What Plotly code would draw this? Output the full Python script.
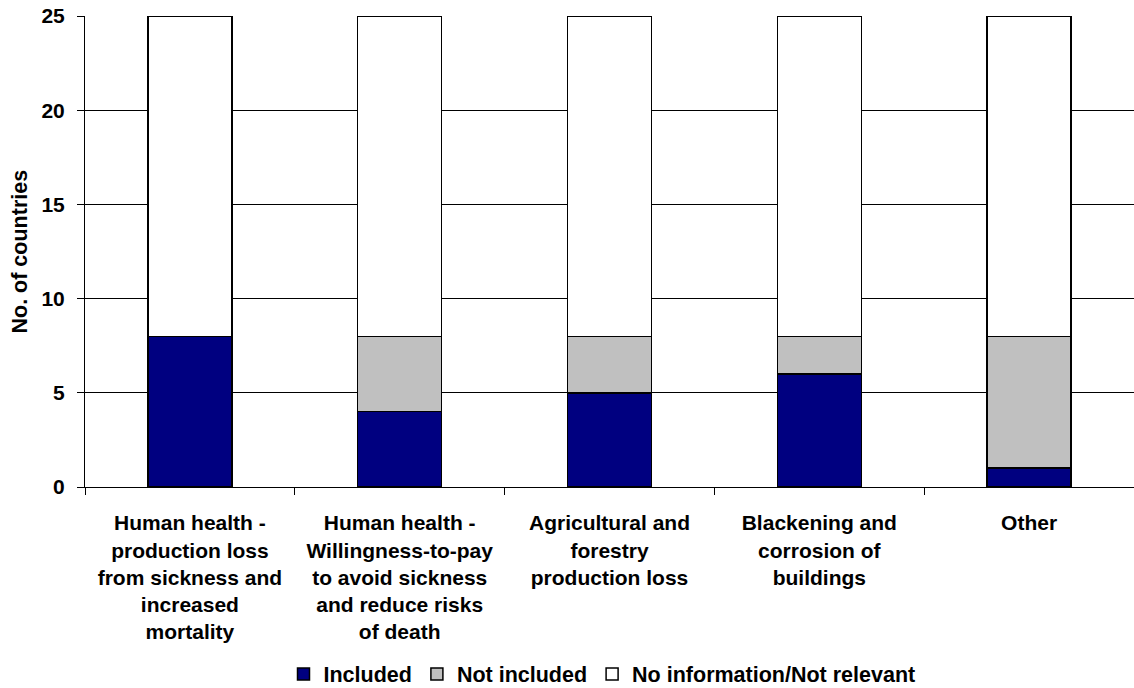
import plotly.graph_objects as go

# Cost categories valued by countries
categories = [
    "Human health -<br>production loss<br>from sickness and<br>increased<br>mortality",
    "Human health -<br>Willingness-to-pay<br>to avoid sickness<br>and reduce risks<br>of death",
    "Agricultural and<br>forestry<br>production loss",
    "Blackening and<br>corrosion of<br>buildings",
    "Other",
]

# Number of countries per status
included = [8, 4, 5, 6, 1]
not_included = [0, 4, 3, 2, 7]
no_information = [17, 17, 17, 17, 17]

series = [
    ("Included", included, "#000080"),
    ("Not included", not_included, "#C0C0C0"),
    ("No information/Not relevant", no_information, "#FFFFFF"),
]

FONT = "Liberation Sans, Arial, sans-serif"

fig = go.Figure()
for name, values, colour in series:
    fig.add_trace(go.Bar(
        name=name,
        x=categories,
        y=values,
        marker=dict(color=colour, line=dict(color="#000000", width=1.5)),
    ))

fig.update_layout(
    barmode="stack",
    bargap=0.6,
    width=1134,
    height=688,
    margin=dict(l=85, r=0, t=16, b=201),
    plot_bgcolor="#FFFFFF",
    paper_bgcolor="#FFFFFF",
    font=dict(family=FONT, size=21, color="#000000", weight="bold"),
    showlegend=True,
    legend=dict(
        orientation="h",
        xref="container",
        yref="container",
        x=0.25,
        xanchor="left",
        y=1 - 674 / 688,
        yanchor="middle",
        font=dict(family=FONT, size=21.5, color="#000000", weight="bold"),
        itemclick=False,
        traceorder="normal",
    ),
    xaxis=dict(
        showline=True,
        linecolor="#000000",
        linewidth=1,
        ticks="outside",
        tickson="boundaries",
        ticklen=7,
        tickcolor="#000000",
        ticklabelstandoff=17,
        tickfont=dict(family=FONT, size=21, weight="bold"),
        showgrid=False,
    ),
    yaxis=dict(
        range=[0, 25],
        tickvals=[0, 5, 10, 15, 20, 25],
        showline=True,
        linecolor="#000000",
        linewidth=1,
        ticks="outside",
        ticklen=7,
        tickcolor="#000000",
        ticklabelstandoff=8,
        showgrid=True,
        gridcolor="#000000",
        gridwidth=1,
        zeroline=False,
        tickfont=dict(family=FONT, size=21, weight="bold"),
    ),
    annotations=[
        dict(
            text="No. of countries",
            xref="paper",
            yref="paper",
            x=0,
            y=0.5,
            xanchor="center",
            yanchor="middle",
            xshift=-66,
            textangle=-90,
            showarrow=False,
            font=dict(family=FONT, size=21.5, weight="bold"),
        )
    ],
)

fig.write_html("out.html")
